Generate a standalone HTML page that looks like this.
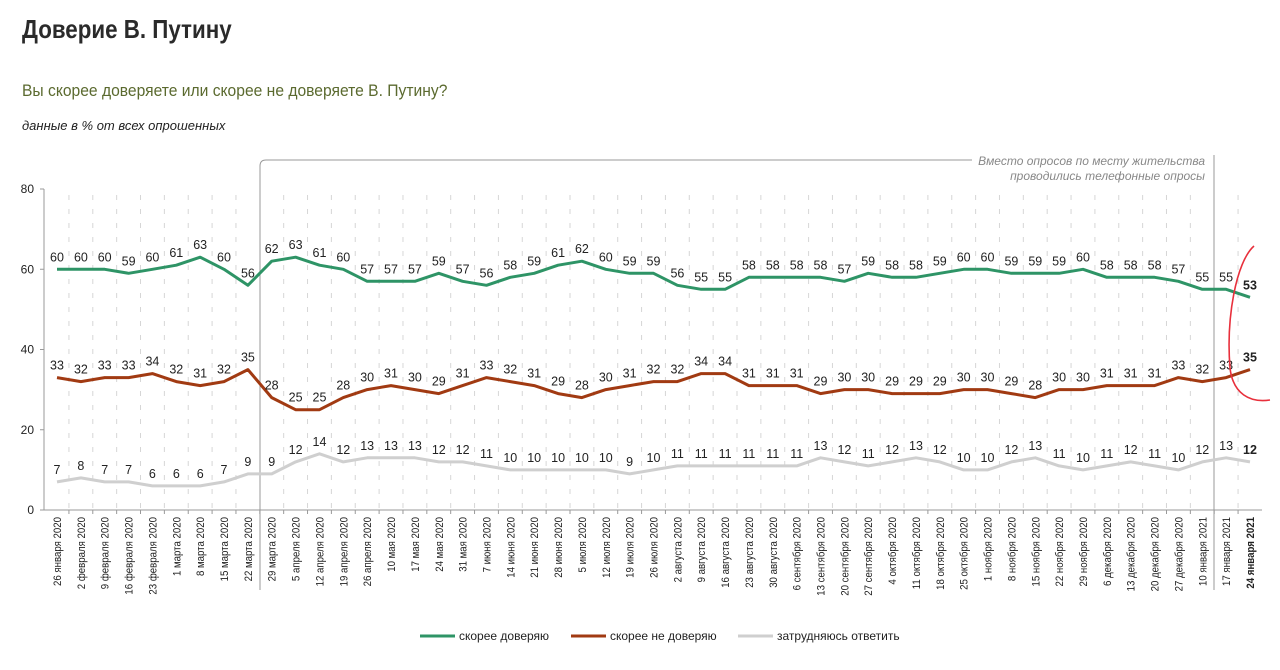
<!DOCTYPE html>
<html><head><meta charset="utf-8"><style>
html,body{margin:0;padding:0;background:#fff;width:1280px;height:670px;overflow:hidden}
svg{display:block}
</style></head><body>
<svg id="s" width="1280" height="670" xmlns="http://www.w3.org/2000/svg" font-family="Liberation Sans, sans-serif">
<text transform="translate(22,38) scale(0.86,1)" font-size="26" font-weight="bold" fill="#2a2a2a">Доверие В. Путину</text>
<text transform="translate(22,96) scale(0.92,1)" font-size="17" fill="#5b6a2f">Вы скорее доверяете или скорее не доверяете В. Путину?</text>
<text x="22" y="130" font-size="13" font-style="italic" fill="#222">данные в % от всех опрошенных</text>
<path d="M260,590 V166 Q260,160 266,160 H972" fill="none" stroke="#999" stroke-width="1"/>
<line x1="1214" y1="155" x2="1214" y2="590" stroke="#999" stroke-width="1"/>
<text x="1205" y="165" font-size="12" font-style="italic" fill="#888" text-anchor="end">Вместо опросов по месту жительства</text>
<text x="1205" y="180" font-size="12" font-style="italic" fill="#888" text-anchor="end">проводились телефонные опросы</text>
<g id="g"></g>
<path d="M1254,246 C1236,262 1226,318 1230,368 C1233,394 1250,403 1270,400" fill="none" stroke="#e8303c" stroke-width="1.6"/>
<line x1="420" y1="636" x2="455" y2="636" stroke="#2e9466" stroke-width="3"/>
<text x="459" y="640" font-size="12" fill="#222">скорее доверяю</text>
<line x1="571" y1="636" x2="606" y2="636" stroke="#a13a12" stroke-width="3"/>
<text x="610" y="640" font-size="12" fill="#222">скорее не доверяю</text>
<line x1="738" y1="636" x2="773" y2="636" stroke="#cfcfcf" stroke-width="3"/>
<text x="777" y="640" font-size="12" fill="#222">затрудняюсь ответить</text>
</svg>
<script>
var dates=["26 января 2020","2 февраля 2020","9 февраля 2020","16 февраля 2020","23 февраля 2020","1 марта 2020","8 марта 2020","15 марта 2020","22 марта 2020","29 марта 2020","5 апреля 2020","12 апреля 2020","19 апреля 2020","26 апреля 2020","10 мая 2020","17 мая 2020","24 мая 2020","31 мая 2020","7 июня 2020","14 июня 2020","21 июня 2020","28 июня 2020","5 июля 2020","12 июля 2020","19 июля 2020","26 июля 2020","2 августа 2020","9 августа 2020","16 августа 2020","23 августа 2020","30 августа 2020","6 сентября 2020","13 сентября 2020","20 сентября 2020","27 сентября 2020","4 октября 2020","11 октября 2020","18 октября 2020","25 октября 2020","1 ноября 2020","8 ноября 2020","15 ноября 2020","22 ноября 2020","29 ноября 2020","6 декабря 2020","13 декабря 2020","20 декабря 2020","27 декабря 2020","10 января 2021","17 января 2021","24 января 2021"];
var G=[60,60,60,59,60,61,63,60,56,62,63,61,60,57,57,57,59,57,56,58,59,61,62,60,59,59,56,55,55,58,58,58,58,57,59,58,58,59,60,60,59,59,59,60,58,58,58,57,55,55,53];
var B=[33,32,33,33,34,32,31,32,35,28,25,25,28,30,31,30,29,31,33,32,31,29,28,30,31,32,32,34,34,31,31,31,29,30,30,29,29,29,30,30,29,28,30,30,31,31,31,33,32,33,35];
var Y=[7,8,7,7,6,6,6,7,9,9,12,14,12,13,13,13,12,12,11,10,10,10,10,10,9,10,11,11,11,11,11,11,13,12,11,12,13,12,10,10,12,13,11,10,11,12,11,10,12,13,12];
function X(i){return 57+i*23.86}
function V(v){return 510-4.0125*v}
var h='';
for(var i=0;i<=50;i++){var gx=X(i)+11.93;
 if(i<50 && i!=8 && i!=48) h+='<line x1="'+gx+'" y1="195" x2="'+gx+'" y2="508" stroke="#d6d6d6" stroke-dasharray="5,9"/>';
 if(i<50) h+='<line x1="'+gx+'" y1="510" x2="'+gx+'" y2="514" stroke="#999"/>';}
h+='<line x1="44" y1="189" x2="44" y2="510" stroke="#999"/><line x1="44" y1="510" x2="1262" y2="510" stroke="#999"/>';
[0,20,40,60,80].forEach(function(v){h+='<line x1="40" y1="'+V(v)+'" x2="44" y2="'+V(v)+'" stroke="#999"/><text x="34" y="'+(V(v)+4)+'" font-size="12" text-anchor="end" fill="#222">'+v+'</text>';});
function line(d,c,w){var p='';d.forEach(function(v,i){p+=(i?'L':'M')+X(i).toFixed(1)+','+V(v).toFixed(1)});h+='<path d="'+p+'" fill="none" stroke="'+c+'" stroke-width="'+w+'" stroke-linejoin="round"/>';}
line(Y,'#cfcfcf',3);line(B,'#a13a12',3);line(G,'#2e9466',3);
function lab(d){d.forEach(function(v,i){h+='<text x="'+X(i).toFixed(1)+'" y="'+(V(v)-8).toFixed(1)+'" font-size="12.5" text-anchor="middle" fill="#222"'+(i==50?' font-weight="bold"':'')+'>'+v+'</text>';});}
lab(G);lab(B);lab(Y);
dates.forEach(function(d,i){var x=X(i)+4;h+='<text transform="translate('+x.toFixed(1)+',517) rotate(-90) scale(0.84,1)" font-size="11.5" text-anchor="end" fill="#222"'+(i==50?' font-weight="bold"':'')+'>'+d+'</text>';});
document.getElementById('g').innerHTML=h;
</script>
</body></html>
